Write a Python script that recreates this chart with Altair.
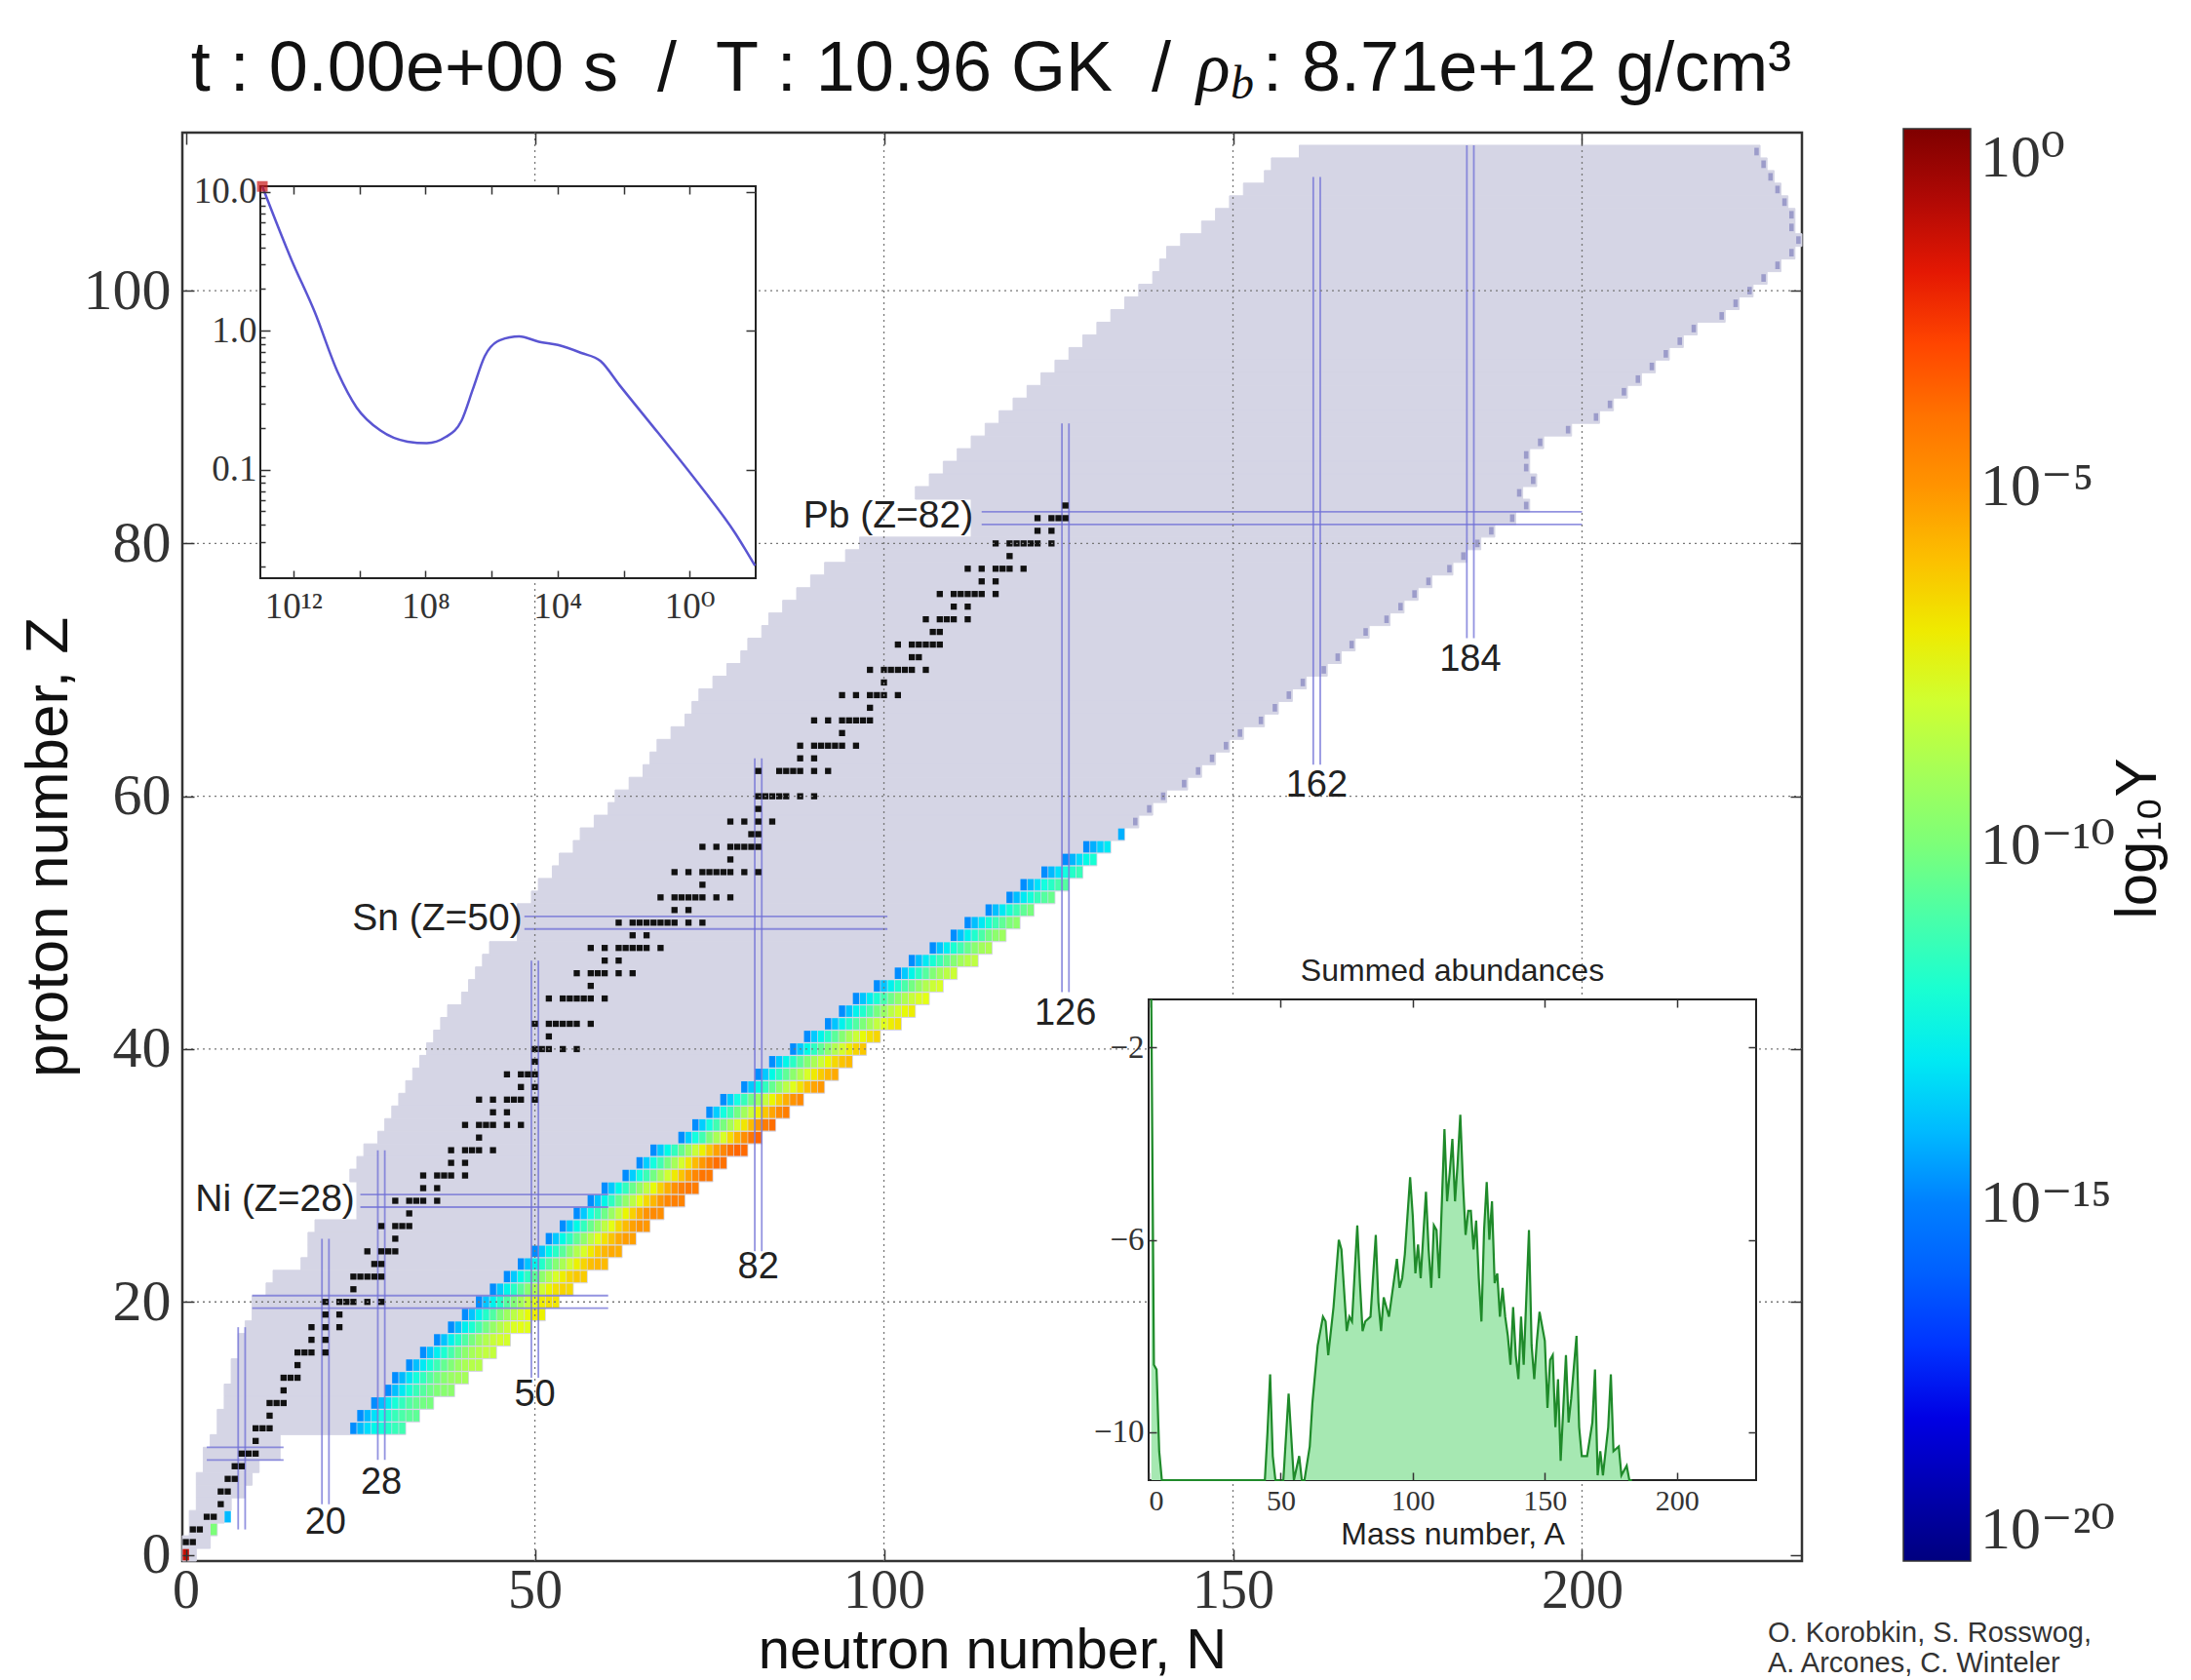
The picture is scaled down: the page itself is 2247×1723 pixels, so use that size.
import altair as alt
import pandas as pd

# ------------------------------------------------------------------ fonts
SANS = "Liberation Sans, Arial, Helvetica, sans-serif"
SERIF = "Liberation Serif, DejaVu Serif, Times New Roman, serif"

# ------------------------------------------------------------------ data: nuclide chart
# grey network region: one entry per proton number Z = 0..111 (min / max neutron number)
N_MIN = [0, 0, 1, 1, 2, 2, 2, 3, 3, 4,
         5, 5, 6, 6, 7, 7, 8, 8, 9, 10,
         10, 12, 13, 17, 18, 18, 19, 25, 25, 25,
         24, 25, 26, 28, 29, 30, 31, 32, 33, 34,
         35, 36, 37, 38, 40, 41, 42, 43, 44, 48,
         48, 48, 50, 51, 53, 54, 56, 57, 59, 61,
         62, 64, 66, 67, 68, 70, 72, 73, 74, 76,
         78, 80, 81, 83, 84, 86, 88, 90, 92, 95,
         97, 113, 113, 113, 105, 107, 109, 111, 113, 115,
         117, 119, 121, 123, 125, 127, 129, 131, 133, 135,
         137, 139, 140, 141, 143, 146, 148, 150, 152, 155,
         156, 160]
N_MAX = [1, 3, 4, 5, 6, 8, 9, 10, 13, 13,
         31, 33, 35, 38, 40, 42, 44, 46, 49, 51,
         53, 55, 57, 60, 62, 64, 66, 68, 71, 73,
         75, 77, 80, 82, 84, 86, 88, 91, 93, 95,
         97, 99, 102, 104, 106, 108, 110, 113, 115, 117,
         119, 121, 124, 126, 128, 130, 132, 134, 136, 138,
         140, 143, 145, 147, 149, 151, 154, 156, 158, 160,
         163, 165, 167, 169, 172, 174, 176, 178, 181, 183,
         185, 187, 190, 192, 191, 193, 192, 192, 194, 198,
         202, 204, 206, 208, 210, 212, 214, 216, 220, 222,
         224, 226, 228, 230, 231, 230, 230, 229, 228, 227,
         226, 225]
EDGE_FROM_Z = 58  # rows whose outermost nuclide is drawn as a darker dot

# abundance band (log10 Y), one row per Z starting at BAND_START
BAND_Z = list(range(10, 58))
BAND_START = [24, 25, 27, 29, 30, 32, 34, 36, 38, 40,
              42, 44, 46, 48, 50, 52, 54, 56, 58, 60,
              63, 65, 67, 71, 73, 75, 77, 80, 82, 84,
              87, 89, 92, 94, 96, 99, 102, 104, 107, 110,
              112, 115, 118, 120, 123, 126, 129, 134]
BAND_LOGY = [
    [-14.8, -14.0, -13.3, -12.7, -12.2, -11.8, -11.4, -11.2],
    [-14.8, -14.0, -13.2, -12.5, -11.9, -11.4, -11.0, -10.7, -10.6],
    [-14.8, -13.9, -13.0, -12.2, -11.5, -10.9, -10.5, -10.2, -10.1],
    [-14.8, -13.9, -13.0, -12.2, -11.4, -10.8, -10.3, -9.9, -9.7, -9.6],
    [-14.8, -14.0, -13.1, -12.3, -11.5, -10.8, -10.2, -9.7, -9.3, -9.1, -9.0],
    [-14.8, -13.9, -13.0, -12.1, -11.3, -10.5, -9.9, -9.3, -8.9, -8.6, -8.6],
    [-14.8, -13.8, -12.9, -12.0, -11.1, -10.3, -9.6, -9.0, -8.6, -8.3, -8.3],
    [-14.8, -13.8, -12.8, -11.8, -10.9, -10.1, -9.3, -8.7, -8.2, -7.9, -7.9],
    [-14.8, -13.9, -12.9, -12.0, -11.1, -10.2, -9.4, -8.7, -8.1, -7.7, -7.5, -7.6],
    [-14.8, -13.8, -12.8, -11.8, -10.9, -10.0, -9.2, -8.5, -7.9, -7.4, -7.1, -7.2],
    [-14.8, -13.8, -12.8, -11.8, -10.8, -9.9, -9.0, -8.2, -7.6, -7.1, -6.8, -6.9],
    [-14.8, -13.7, -12.7, -11.7, -10.7, -9.7, -8.8, -8.0, -7.3, -6.8, -6.5, -6.6],
    [-14.8, -13.7, -12.6, -11.6, -10.6, -9.6, -8.7, -7.8, -7.1, -6.5, -6.2, -6.3],
    [-14.8, -13.8, -12.8, -11.8, -10.8, -9.8, -8.9, -8.0, -7.2, -6.5, -6.0, -5.8, -5.9],
    [-14.8, -13.8, -12.7, -11.7, -10.7, -9.7, -8.7, -7.8, -7.0, -6.3, -5.8, -5.5, -5.6],
    [-14.8, -13.7, -12.6, -11.6, -10.5, -9.5, -8.5, -7.6, -6.8, -6.1, -5.5, -5.2, -5.3],
    [-14.8, -13.7, -12.6, -11.5, -10.4, -9.4, -8.4, -7.5, -6.6, -5.9, -5.3, -5.0, -5.1],
    [-14.8, -13.7, -12.5, -11.4, -10.3, -9.3, -8.3, -7.3, -6.4, -5.6, -5.0, -4.7, -4.8],
    [-14.8, -13.8, -12.7, -11.6, -10.5, -9.5, -8.5, -7.5, -6.6, -5.8, -5.1, -4.6, -4.4, -4.5],
    [-14.8, -13.7, -12.6, -11.5, -10.4, -9.4, -8.4, -7.4, -6.4, -5.6, -4.9, -4.4, -4.2, -4.3],
    [-14.8, -13.6, -12.4, -11.3, -10.2, -9.1, -8.0, -7.0, -6.1, -5.3, -4.6, -4.1, -4.2],
    [-14.8, -13.6, -12.4, -11.2, -10.1, -9.0, -7.9, -6.9, -5.9, -5.1, -4.4, -3.9, -4.0],
    [-14.8, -13.7, -12.6, -11.5, -10.4, -9.3, -8.2, -7.2, -6.2, -5.3, -4.6, -4.0, -3.7, -3.8],
    [-14.8, -13.6, -12.4, -11.2, -10.0, -8.9, -7.8, -6.7, -5.7, -4.8, -4.1, -3.7],
    [-14.8, -13.6, -12.4, -11.2, -10.1, -9.0, -7.9, -6.9, -5.9, -5.0, -4.3, -3.9],
    [-14.8, -13.6, -12.4, -11.3, -10.2, -9.1, -8.1, -7.1, -6.2, -5.4, -4.7, -4.3],
    [-14.8, -13.6, -12.5, -11.4, -10.3, -9.3, -8.3, -7.3, -6.4, -5.6, -5.0, -4.7],
    [-14.8, -13.7, -12.6, -11.5, -10.5, -9.5, -8.5, -7.6, -6.8, -6.0, -5.4, -5.1],
    [-14.8, -13.7, -12.6, -11.6, -10.6, -9.6, -8.7, -7.8, -7.0, -6.3, -5.8, -5.5],
    [-14.8, -13.7, -12.7, -11.7, -10.7, -9.8, -8.9, -8.1, -7.3, -6.6, -6.1, -5.9],
    [-14.8, -13.7, -12.6, -11.6, -10.6, -9.6, -8.7, -7.9, -7.1, -6.5, -6.2],
    [-14.8, -13.7, -12.7, -11.7, -10.7, -9.8, -8.9, -8.1, -7.4, -6.8, -6.5],
    [-14.8, -13.8, -12.8, -11.8, -10.9, -10.0, -9.1, -8.3, -7.6, -7.1, -6.8],
    [-14.8, -13.8, -12.8, -11.9, -11.0, -10.1, -9.3, -8.5, -7.9, -7.4, -7.1],
    [-14.8, -13.8, -12.9, -12.0, -11.1, -10.3, -9.5, -8.8, -8.2, -7.7, -7.5],
    [-14.8, -13.8, -12.8, -11.9, -11.0, -10.2, -9.4, -8.7, -8.1, -7.8],
    [-14.8, -13.7, -12.7, -11.7, -10.8, -9.9, -9.1, -8.5, -8.1],
    [-14.8, -13.9, -13.0, -12.1, -11.3, -10.5, -9.8, -9.1, -8.6, -8.4],
    [-14.8, -13.8, -12.9, -12.0, -11.2, -10.4, -9.7, -9.1, -8.8],
    [-14.8, -13.8, -12.8, -11.9, -11.0, -10.2, -9.6, -9.2],
    [-14.8, -13.9, -13.0, -12.1, -11.3, -10.6, -10.0, -9.6],
    [-14.8, -13.9, -13.0, -12.1, -11.3, -10.6, -10.1],
    [-14.8, -13.9, -13.0, -12.2, -11.4, -10.8, -10.4],
    [-14.8, -14.0, -13.2, -12.4, -11.7, -11.1, -10.8],
    [-14.8, -14.0, -13.2, -12.4, -11.8, -11.4],
    [-14.8, -14.1, -13.3, -12.6, -12.1],
    [-14.8, -14.2, -13.5, -13.0],
    [-14.2],
]
# isolated light nuclei with visible abundance
LIGHT_N = [0, 4, 6]
LIGHT_Z = [0, 2, 3]
LIGHT_LOGY = [-1.5, -10.0, -14.0]

# stable nuclides: Z -> mass numbers
STABLE = {
    1: [1, 2], 2: [3, 4], 3: [6, 7], 4: [9], 5: [10, 11], 6: [12, 13], 7: [14, 15],
    8: [16, 17, 18], 9: [19], 10: [20, 21, 22], 11: [23], 12: [24, 25, 26], 13: [27],
    14: [28, 29, 30], 15: [31], 16: [32, 33, 34, 36], 17: [35, 37], 18: [36, 38, 40],
    19: [39, 41], 20: [40, 42, 43, 44, 46, 48], 21: [45], 22: [46, 47, 48, 49, 50],
    23: [50, 51], 24: [50, 52, 53, 54], 25: [55], 26: [54, 56, 57, 58], 27: [59],
    28: [58, 60, 61, 62, 64], 29: [63, 65], 30: [64, 66, 67, 68, 70], 31: [69, 71],
    32: [70, 72, 73, 74, 76], 33: [75], 34: [74, 76, 77, 78, 80, 82], 35: [79, 81],
    36: [78, 80, 82, 83, 84, 86], 37: [85, 87], 38: [84, 86, 87, 88], 39: [89],
    40: [90, 91, 92, 94, 96], 41: [93], 42: [92, 94, 95, 96, 97, 98, 100],
    44: [96, 98, 99, 100, 101, 102, 104], 45: [103], 46: [102, 104, 105, 106, 108, 110],
    47: [107, 109], 48: [106, 108, 110, 111, 112, 113, 114, 116], 49: [113, 115],
    50: [112, 114, 115, 116, 117, 118, 119, 120, 122, 124], 51: [121, 123],
    52: [120, 122, 123, 124, 125, 126, 128, 130], 53: [127],
    54: [124, 126, 128, 129, 130, 131, 132, 134, 136], 55: [133],
    56: [130, 132, 134, 135, 136, 137, 138], 57: [138, 139], 58: [136, 138, 140, 142],
    59: [141], 60: [142, 143, 144, 145, 146, 148, 150], 62: [144, 147, 148, 149, 150, 152, 154],
    63: [151, 153], 64: [152, 154, 155, 156, 157, 158, 160], 65: [159],
    66: [156, 158, 160, 161, 162, 163, 164], 67: [165], 68: [162, 164, 166, 167, 168, 170],
    69: [169], 70: [168, 170, 171, 172, 173, 174, 176], 71: [175, 176],
    72: [174, 176, 177, 178, 179, 180], 73: [180, 181], 74: [180, 182, 183, 184, 186],
    75: [185, 187], 76: [184, 186, 187, 188, 189, 190, 192], 77: [191, 193],
    78: [190, 192, 194, 195, 196, 198], 79: [197], 80: [196, 198, 199, 200, 201, 202, 204],
    81: [203, 205], 82: [204, 206, 207, 208], 83: [209],
}

# magic numbers: vertical (N) and horizontal (Z) line pairs
MAGIC_N = [8, 20, 28, 50, 82, 126, 162, 184]
MAGIC_N_ZLO = [2, 4, 7.5, 14, 24, 44.5, 62.5, 72.5]
MAGIC_N_ZHI = [18, 25, 32, 47, 63, 89.5, 109, 111.5]
MAGIC_N_LABEL_Z = [2.5, 5.7, 12.6, 22.7, 42.8, 60.8, 70.8]   # labels for 20..184
MAGIC_Z = [8, 20, 28, 50, 82]
MAGIC_Z_NLO = [3, 9.5, 25, 48.5, 114]
MAGIC_Z_NHI = [14, 60.5, 60.5, 100.5, 200]
ELEMENT_LABELS = ["Ni (Z=28)", "Sn (Z=50)", "Pb (Z=82)"]
ELEMENT_LABEL_N = [24.2, 48.2, 112.8]
ELEMENT_LABEL_Z = [28.1, 50.3, 82.2]

GRID_N = [50, 100, 150, 200]
GRID_Z = [20, 40, 60, 80, 100]

# ------------------------------------------------------------------ data: insets
# thermodynamic track: density (g/cm^3) vs temperature (GK)
RHO = [8.71e12, 1.15e12, 2.3e11, 4.5e10, 1.2e10, 2.3e9, 3.5e8, 9.1e7, 2.4e7, 8.1e6,
       3.6e6, 1.6e6, 5.5e5, 1.45e5, 3.7e4, 9.8e3, 1.9e3, 500, 132, 8.7, 0.59, 0.041, 0.0105]
TEMP = [10.96, 3.26, 1.38, 0.501, 0.279, 0.191, 0.159, 0.155, 0.172, 0.225,
        0.384, 0.656, 0.857, 0.912, 0.834, 0.790, 0.692, 0.605, 0.405, 0.182,
        0.0814, 0.0346, 0.0203]

# summed abundances log10 Y vs mass number A
MASS_A = [1, 2, 3, 4, 5, 44, 45, 46, 47, 48, 51, 53, 55, 57, 58, 59, 61, 62, 64, 66,
          67, 68, 70, 72, 73, 75, 76, 77, 79, 80, 81, 82, 84, 86, 87, 88, 89, 90, 91, 93,
          94, 95, 96, 97, 99, 100, 101, 102, 103, 105, 106, 107, 108, 109, 110, 112, 113, 114, 115, 116,
          117, 118, 119, 120, 121, 122, 123, 124, 125, 126, 127, 128, 129, 130, 131, 132, 133, 134, 135, 136,
          137, 138, 139, 140, 141, 142, 144, 145, 146, 147, 148, 150, 151, 152, 153, 154, 155, 156, 157, 158,
          159, 160, 162, 163, 164, 166, 168, 169, 170, 171, 172, 174, 175, 176, 178, 179, 181, 182, 183]
MASS_LOGY = [-1.0, -8.6, -8.7, -10.4, -11.0, -11.0, -10.0, -8.8, -10.5, -11.0, -11.0, -9.2, -11.0, -10.5, -11.0, -11.0, -10.3, -9.4, -8.2, -7.6,
             -7.7, -8.4, -7.4, -6.0, -6.2, -7.9, -7.6, -7.7, -5.7, -6.9, -7.9, -7.7, -7.6, -5.9, -7.3, -7.9, -7.2, -7.4, -7.6, -6.8,
             -6.4, -7.0, -6.8, -6.3, -4.7, -5.5, -6.7, -6.1, -6.8, -5.0, -6.2, -7.0, -5.7, -5.8, -6.8, -3.7, -5.2, -4.6, -3.9, -5.2,
             -4.4, -3.4, -4.8, -5.9, -5.4, -5.4, -6.2, -5.6, -6.8, -7.7, -5.8, -4.8, -6.0, -5.2, -6.9, -6.7, -7.6, -7.0, -7.6, -8.0,
             -8.6, -7.4, -8.4, -8.9, -7.6, -8.6, -5.8, -8.2, -8.9, -8.1, -7.5, -8.1, -9.5, -8.5, -8.4, -9.9, -8.9, -10.6, -9.5, -8.4,
             -9.8, -9.3, -8.0, -9.9, -10.5, -10.5, -9.8, -8.7, -10.9, -10.4, -10.9, -9.9, -8.8, -10.4, -10.3, -10.9, -10.7, -11.0, -11.0]

# colour map (jet) and colourbar
JET_DOMAIN = [-20, -17.5, -15, -12.5, -10, -7.5, -5, -2.5, 0]
JET_COLORS = ["#00007f", "#0000ff", "#0080ff", "#15ffe2", "#7cff79", "#e4ff13", "#ff9400", "#ff2000", "#7f0000"]
CBAR_VALUES = [-20, -15, -10, -5, 0]

# ------------------------------------------------------------------ layout
W, H = 1661, 1465
X_MAIN = alt.Scale(domain=[-0.5, 231.5], nice=False, zero=False)
Y_MAIN = alt.Scale(domain=[-0.5, 112.5], nice=False, zero=False)
# inset 1 (temperature vs density) and inset 2 (summed abundances) – pixel ranges
I1_X = alt.Scale(type="log", domain=[1e13, 1e-2], range=[80, 588], nice=False)
I1_Y = alt.Scale(type="log", domain=[0.0165, 11], range=[457, 55], nice=False)
I2_X = alt.Scale(domain=[0, 230], range=[991, 1614], nice=False, zero=False)
I2_Y = alt.Scale(domain=[-11, -1], range=[1382, 889], nice=False, zero=False)


def axis(orient, values, size, offset, **kw):
    base = dict(orient=orient, values=values, tickSize=size, offset=offset, labels=False,
                domain=False, grid=False, ticks=True, tickColor="#333", tickWidth=1.5,
                title=None, zindex=2)
    base.update(kw)
    return alt.Axis(**base)


# ------------------------------------------------------------------ frames
grey_df = pd.DataFrame({"Z": list(range(len(N_MIN))), "nmin": N_MIN, "nmax": N_MAX})
grey_df["x0"] = grey_df["nmin"] - 0.5
grey_df["x1"] = grey_df["nmax"] + 0.5
grey_df["y0"] = grey_df["Z"] - 0.5
grey_df["y1"] = grey_df["Z"] + 0.5

edge_df = grey_df[grey_df["Z"] >= EDGE_FROM_Z].copy()
edge_df["x0"] = edge_df["nmax"] - 0.32
edge_df["x1"] = edge_df["nmax"] + 0.32
edge_df["y0"] = edge_df["Z"] - 0.3
edge_df["y1"] = edge_df["Z"] + 0.3

cells = []
for z, s, vals in zip(BAND_Z, BAND_START, BAND_LOGY):
    for i, v in enumerate(vals):
        cells.append({"N": s + i, "Z": z, "logY": v})
for n, z, v in zip(LIGHT_N, LIGHT_Z, LIGHT_LOGY):
    cells.append({"N": n, "Z": z, "logY": v})
band_df = pd.DataFrame(cells)
band_df["x0"] = band_df["N"] - 0.45
band_df["x1"] = band_df["N"] + 0.45
band_df["y0"] = band_df["Z"] - 0.45
band_df["y1"] = band_df["Z"] + 0.45

stable_df = pd.DataFrame([{"N": a - z, "Z": z} for z, al in STABLE.items() for a in al])

seg = []
for n, lo, hi in zip(MAGIC_N, MAGIC_N_ZLO, MAGIC_N_ZHI):
    for d in (-0.5, 0.5):
        seg.append({"x": n + d, "x2": n + d, "y": lo, "y2": hi})
for z, lo, hi in zip(MAGIC_Z, MAGIC_Z_NLO, MAGIC_Z_NHI):
    for d in (-0.5, 0.5):
        seg.append({"x": lo, "x2": hi, "y": z + d, "y2": z + d})
seg_df = pd.DataFrame(seg)

mlab_df = pd.DataFrame({"t": [str(n) for n in MAGIC_N[1:]], "N": MAGIC_N[1:], "Z": MAGIC_N_LABEL_Z})
elab_df = pd.DataFrame({"t": ELEMENT_LABELS, "N": ELEMENT_LABEL_N, "Z": ELEMENT_LABEL_Z})

one = pd.DataFrame({"a": [0]})

# ------------------------------------------------------------------ main layers
cbar_label = ("datum.value == 0 ? '10⁰' : datum.value == -5 ? '10⁻⁵' : datum.value == -10 ? '10⁻¹⁰' : "
              "datum.value == -15 ? '10⁻¹⁵' : '10⁻²⁰'")

grey = alt.Chart(grey_df).mark_rect(fill="#d5d5e5", stroke="#d5d5e5", strokeWidth=1).encode(
    x=alt.X("x0:Q", scale=X_MAIN,
            axis=axis("bottom", [0, 50, 100, 150, 200], 12, -12, labels=True, format="d",
                      labelFont=SERIF, labelFontSize=56, labelColor="#333", labelPadding=3,
                      title="neutron number, N", titleFont=SANS, titleFontSize=58,
                      titleFontWeight="normal", titleColor="#111", titlePadding=5)),
    x2="x1:Q",
    y=alt.Y("y0:Q", scale=Y_MAIN,
            axis=axis("left", [0, 20, 40, 60, 80, 100], 12, -12, labels=True, format="d",
                      labelFont=SERIF, labelFontSize=60, labelColor="#333", labelPadding=12,
                      title="proton number, Z", titleFont=SANS, titleFontSize=62,
                      titleFontWeight="normal", titleColor="#111", titlePadding=4)),
    y2="y1:Q",
)

band = alt.Chart(band_df).mark_rect().encode(
    x=alt.X("x0:Q", scale=X_MAIN, axis=None), x2="x1:Q",
    y=alt.Y("y0:Q", scale=Y_MAIN, axis=None), y2="y1:Q",
    color=alt.Color("logY:Q", scale=alt.Scale(domain=JET_DOMAIN, range=JET_COLORS),
                    legend=alt.Legend(orient="none", legendX=1765, legendY=-4, direction="vertical",
                                      gradientLength=1469, gradientThickness=69, title=None,
                                      values=CBAR_VALUES, labelExpr=cbar_label, labelFont=SERIF,
                                      labelFontSize=62, labelColor="#333", labelOffset=10,
                                      gradientStrokeColor="#333", gradientStrokeWidth=1.5,
                                      padding=0)),
)

edge = alt.Chart(edge_df).mark_rect(color="#9c9cca").encode(
    x=alt.X("x0:Q", scale=X_MAIN, axis=None), x2="x1:Q",
    y=alt.Y("y0:Q", scale=Y_MAIN, axis=None), y2="y1:Q",
)

magic = alt.Chart(seg_df).mark_rule(color="#6f6fd6", strokeWidth=1.8, opacity=0.75).encode(
    x=alt.X("x:Q", scale=X_MAIN, axis=None), x2="x2:Q",
    y=alt.Y("y:Q", scale=Y_MAIN, axis=None), y2="y2:Q",
)

dots = alt.Chart(stable_df).mark_square(size=40, color="#111", opacity=1).encode(
    x=alt.X("N:Q", scale=X_MAIN, axis=axis("top", [0, 50, 100, 150, 200], 12, -12)),
    y=alt.Y("Z:Q", scale=Y_MAIN, axis=axis("right", [0, 20, 40, 60, 80, 100], 12, -12)),
)

grid_v = alt.Chart(pd.DataFrame({"N": GRID_N})).mark_rule(
    color="#777", strokeWidth=1.3, strokeDash=[2, 4]).encode(
    x=alt.X("N:Q", scale=X_MAIN, axis=None))
grid_h = alt.Chart(pd.DataFrame({"Z": GRID_Z})).mark_rule(
    color="#777", strokeWidth=1.3, strokeDash=[2, 4]).encode(
    y=alt.Y("Z:Q", scale=Y_MAIN, axis=None))

mlab = alt.Chart(mlab_df).mark_text(font=SANS, fontSize=38, color="#222", baseline="middle",
                                    align="center").encode(
    x=alt.X("N:Q", scale=X_MAIN, axis=None), y=alt.Y("Z:Q", scale=Y_MAIN, axis=None), text="t:N")
elab = alt.Chart(elab_df).mark_text(font=SANS, fontSize=39, color="#222", baseline="middle",
                                    align="right").encode(
    x=alt.X("N:Q", scale=X_MAIN, axis=None), y=alt.Y("Z:Q", scale=Y_MAIN, axis=None), text="t:N")

# ------------------------------------------------------------------ inset 1: T vs rho
i1_bg = alt.Chart(pd.DataFrame({"x": [1e13], "x2": [1e-2], "y": [0.0165], "y2": [11]})).mark_rect(
    fill="white", stroke="#222", strokeWidth=2).encode(
    x=alt.X("x:Q", scale=I1_X, axis=None), x2="x2:Q",
    y=alt.Y("y:Q", scale=I1_Y,
            axis=axis("left", [0.02, 0.03, 0.04, 0.05, 0.06, 0.07, 0.08, 0.09,
                               0.2, 0.3, 0.4, 0.5, 0.6, 0.7, 0.8, 0.9, 2, 3, 4, 5, 6, 7, 8, 9],
                      5, -85)),
    y2="y2:Q",
)
i1_line = alt.Chart(pd.DataFrame({"rho": RHO, "T": TEMP})).mark_line(
    color="#5a55d2", strokeWidth=2.5, interpolate="monotone").encode(
    x=alt.X("rho:Q", scale=I1_X,
            axis=axis("bottom", [1e12, 1e10, 1e8, 1e6, 1e4, 1e2, 1], 8, 457 - 8 - H, labels=True,
                      labelExpr="round(log(datum.value)/LN10) == 12 ? '10¹²' : round(log(datum.value)/LN10) == 8 ? '10⁸' : round(log(datum.value)/LN10) == 4 ? '10⁴' : round(log(datum.value)/LN10) == 0 ? '10⁰' : ''",
                      labelFont=SERIF, labelFontSize=37, labelColor="#333", labelPadding=11)),
    y=alt.Y("T:Q", scale=I1_Y,
            axis=axis("left", [0.1, 1, 10], 10, -90, labels=True,
                      labelExpr="datum.value < 0.5 ? '0.1' : datum.value < 5 ? '1.0' : '10.0'",
                      labelFont=SERIF, labelFontSize=37, labelColor="#333", labelPadding=4)),
    order="i:Q",
).transform_window(i="row_number()")
i1_pt = alt.Chart(pd.DataFrame({"rho": RHO[:1], "T": TEMP[:1]})).mark_square(
    size=120, color="#c81414", clip=True).encode(
    x=alt.X("rho:Q", scale=I1_X, axis=axis("top", [1e12, 1e10, 1e8, 1e6, 1e4, 1e2, 1], 8, -63)),
    y=alt.Y("T:Q", scale=I1_Y, axis=axis("right", [0.1, 1, 10], 10, 588 - 10 - W)),
)

# ------------------------------------------------------------------ inset 2: summed abundances
i2_bg = alt.Chart(pd.DataFrame({"x": [0], "x2": [230], "y": [-11], "y2": [-1]})).mark_rect(
    fill="white", stroke="#222", strokeWidth=2).encode(
    x=alt.X("x:Q", scale=I2_X, axis=axis("top", [0, 50, 100, 150, 200], 8, -(889 + 8))),
    x2="x2:Q",
    y=alt.Y("y:Q", scale=I2_Y, axis=axis("right", [-2, -6, -10], 8, 1614 - 8 - W)),
    y2="y2:Q",
)
i2_area = alt.Chart(pd.DataFrame({"A": MASS_A, "v": MASS_LOGY})).mark_area(
    color="#a6e8b2", opacity=1, line=alt.LineConfig(color="#1f8a2a", strokeWidth=2.2)).encode(
    x=alt.X("A:Q", scale=I2_X,
            axis=axis("bottom", [0, 50, 100, 150, 200], 8, 1382 - 8 - H, labels=True, format="d",
                      labelFont=SERIF, labelFontSize=30, labelColor="#333", labelPadding=6,
                      title="Mass number, A", titleFont=SANS, titleFontSize=32,
                      titleFontWeight="normal", titleColor="#222", titlePadding=4)),
    y=alt.Y("v:Q", scale=I2_Y,
            axis=axis("left", [-2, -6, -10], 8, -(991 + 8), labels=True, format="d",
                      labelFont=SERIF, labelFontSize=33, labelColor="#333", labelPadding=5)),
    y2=alt.Y2(datum=-11),
)
i2_title = alt.Chart(pd.DataFrame({"A": [115], "v": [-1]})).mark_text(
    font=SANS, fontSize=32, color="#222", baseline="bottom", dy=-12).encode(
    x=alt.X("A:Q", scale=I2_X, axis=None), y=alt.Y("v:Q", scale=I2_Y, axis=None),
    text=alt.value("Summed abundances"))

# ------------------------------------------------------------------ figure texts
def txt(s, x, y, **kw):
    return alt.Chart(one).mark_text(**kw).encode(x=alt.value(x), y=alt.value(y), text=alt.value(s))

NB = "\u00a0"
title_a = txt("t : 0.00e+00 s" + NB * 2 + "/" + NB * 2 + "T : 10.96 GK" + NB * 2 + "/",
              1014, -43, font=SANS, fontSize=72, color="#111", align="right", baseline="alphabetic")
title_rho = txt("ρ", 1040, -43, font=SERIF, fontSize=72, fontStyle="italic", color="#111",
                align="left", baseline="alphabetic")
title_b = txt("b", 1075, -35, font=SERIF, fontSize=48, fontStyle="italic", color="#111",
              align="left", baseline="alphabetic")
title_c = txt(": 8.71e+12 g/cm³", 1108, -43, font=SANS, fontSize=72, color="#111", align="left",
              baseline="alphabetic")
cbar_title = txt("log₁₀Y", 2006, 724, font=SANS, fontSize=60, color="#111", angle=270,
                 align="center", baseline="middle")
credit1 = txt("O. Korobkin, S. Rosswog,", 1626, 1548, font=SANS, fontSize=29, color="#333",
              align="left", baseline="alphabetic")
credit2 = txt("A. Arcones, C. Winteler", 1626, 1579, font=SANS, fontSize=29, color="#333",
              align="left", baseline="alphabetic")

chart = alt.layer(
    grey, band, edge, magic, dots, grid_v, grid_h, mlab, elab,
    i1_bg, i1_line, i1_pt,
    i2_bg, i2_area, i2_title,
    title_a, title_rho, title_b, title_c, cbar_title, credit1, credit2,
).resolve_scale(
    x="independent", y="independent"
).properties(
    width=W, height=H,
    padding={"left": 187, "top": 136, "right": 2247 - 187 - W, "bottom": 1723 - 136 - H},
    autosize=alt.AutoSizeParams(type="none"),
    background="white",
).configure_view(stroke="#333", strokeWidth=2.5)

chart.save("out.html", embed_options={"renderer": "svg", "actions": False})
